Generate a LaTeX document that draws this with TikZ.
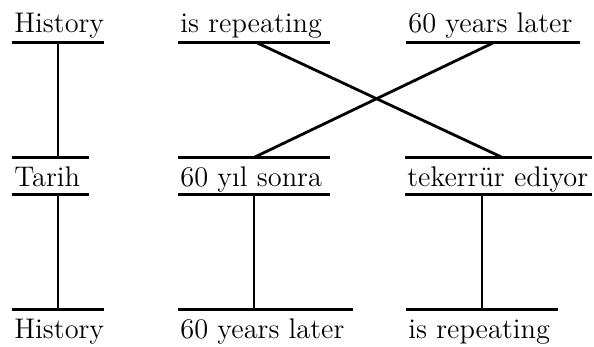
\documentclass[tikz,border=0pt]{standalone}
\usepackage{fontspec}
\usetikzlibrary{calc}
\newcommand\wordbox[2]{\makebox[#1][l]{#2}}
\begin{document}
\begin{tikzpicture}[x=0.5pt,y=-0.5pt,
  word/.style={inner xsep=1pt, inner ysep=0pt, anchor=base west, font=\fontsize{14.2pt}{17pt}\selectfont},
  bar/.style={line width=1.5pt},
  link/.style={line width=1.4pt}]
\useasboundingbox (0,0) rectangle (594,347);
% row 1
\node[word] (a1) at (12,33) {\wordbox{43.5pt}{History}};
\node[word] (a2) at (178,33) {\wordbox{73.5pt}{is repeating}};
\node[word] (a3) at (406,33) {\wordbox{84.5pt}{60 years later}};
% row 2
\node[word] (b1) at (12,187) {\wordbox{36pt}{Tarih}};
\node[word] (b2) at (178,187) {\wordbox{73.5pt}{60 yıl sonra}};
\node[word] (b3) at (405,187) {\wordbox{91pt}{tekerrür ediyor}};
% row 3
\node[word] (c1) at (12,338) {\wordbox{43.5pt}{History}};
\node[word] (c2) at (178,338) {\wordbox{85pt}{60 years later}};
\node[word] (c3) at (406,338) {\wordbox{73.5pt}{is repeating}};
% bars
\foreach \n in {a1,a2,a3}{
  \draw[bar] ($(\n.base west)+(0,10)$) -- ($(\n.base east)+(0,10)$);
  \coordinate (\n m) at ($(\n.base)+(0,10)$);
}
\foreach \n in {b1,b2,b3}{
  \draw[bar] ($(\n.base west)+(0,-29.5)$) -- ($(\n.base east)+(0,-29.5)$);
  \draw[bar] ($(\n.base west)+(0,7.5)$) -- ($(\n.base east)+(0,7.5)$);
  \coordinate (\n t) at ($(\n.base)+(0,-29.5)$);
  \coordinate (\n b) at ($(\n.base)+(0,7.5)$);
}
\foreach \n in {c1,c2,c3}{
  \draw[bar] ($(\n.base west)+(0,-28.5)$) -- ($(\n.base east)+(0,-28.5)$);
  \coordinate (\n t) at ($(\n.base)+(0,-28.5)$);
}
% connectors row 1 -> row 2
\draw[link] (a1m) -- (a1m |- b1t);
\draw[link] ($(a2m)+(3.5,0)$) -- ($(b3t)+(4,0)$);
\draw[link] (a3m) -- (b2t);
% connectors row 2 -> row 3
\draw[link] (c1t |- b1b) -- (c1t);
\draw[link] (b2b) -- (b2b |- c2t);
\draw[link] (c3t |- b3b) -- (c3t);
\end{tikzpicture}
\end{document}
